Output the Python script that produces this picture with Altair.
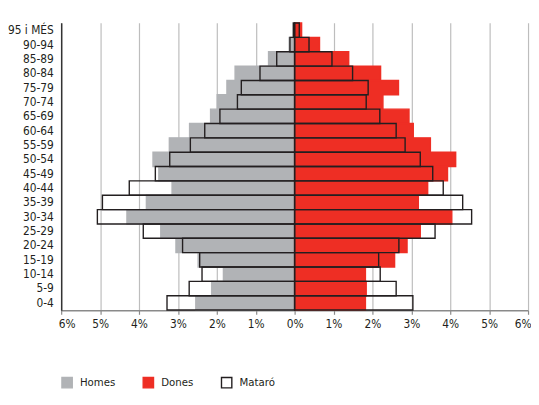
import altair as alt
import pandas as pd

ages = ["95 i MÉS", "90-94", "85-89", "80-84", "75-79", "70-74", "65-69", "60-64",
        "55-59", "50-54", "45-49", "40-44", "35-39", "30-34", "25-29", "20-24",
        "15-19", "10-14", "5-9", "0-4"]
homes = [0.04, 0.14, 0.67, 1.53, 1.74, 1.99, 2.16, 2.70, 3.22, 3.64, 3.49, 3.15,
         3.81, 4.31, 3.44, 3.05, 2.48, 1.83, 2.13, 2.54]
dones = [0.18, 0.64, 1.39, 2.21, 2.67, 2.27, 2.94, 3.05, 3.49, 4.14, 3.93, 3.42,
         3.18, 4.04, 3.23, 2.89, 2.57, 1.82, 1.84, 1.82]
mataro_homes = [0.03, 0.12, 0.46, 0.89, 1.37, 1.47, 1.92, 2.31, 2.68, 3.21, 3.58,
                4.25, 4.94, 5.07, 3.89, 2.88, 2.44, 2.38, 2.71, 3.28]
mataro_dones = [0.12, 0.37, 0.96, 1.49, 1.89, 1.84, 2.19, 2.61, 2.84, 3.23, 3.55,
                3.82, 4.32, 4.55, 3.61, 2.68, 2.16, 2.20, 2.61, 3.04]

series = ["Homes", "Dones", "Mataró"]
colors = ["#b1b3b6", "#ee2e24", "transparent"]
strokes = ["#b1b3b6", "#ee2e24", "#231f20"]

rows = []
for a, v in zip(ages, homes):
    rows.append({"age": a, "value": -v, "serie": "Homes"})
for a, v in zip(ages, dones):
    rows.append({"age": a, "value": v, "serie": "Dones"})
for a, v in zip(ages, mataro_homes):
    rows.append({"age": a, "value": -v, "serie": "Mataró"})
for a, v in zip(ages, mataro_dones):
    rows.append({"age": a, "value": v, "serie": "Mataró"})
df = pd.DataFrame(rows)

FONT = "Liberation Sans Narrow, DejaVu Sans Condensed, Liberation Sans, sans-serif"
TXT = "#231f20"

chart = alt.Chart(df).mark_bar(strokeWidth=1.4).encode(
    x=alt.X("value:Q", stack=None,
            scale=alt.Scale(domain=[-6, 6], nice=False, zero=False),
            axis=alt.Axis(values=list(range(-6, 7)), labelExpr="abs(datum.value) + '%'",
                          title=None, grid=True, gridColor="#bdbdbd", gridWidth=1.2,
                          domainColor="#8a8a8a", domainWidth=1.5, tickColor="#8a8a8a",
                          tickSize=4, tickWidth=1.2, labelFont=FONT, labelFontSize=12,
                          labelColor=TXT, labelPadding=4,
                          labelFlush=True, labelFlushOffset=3)),
    y=alt.Y("age:N", sort=ages,
            scale=alt.Scale(paddingInner=0, paddingOuter=0.02),
            axis=alt.Axis(title=None, ticks=False, domainColor="#333333", domainWidth=1.5,
                          labelFont=FONT, labelFontSize=12, labelColor=TXT,
                          labelPadding=8, grid=False)),
    fill=alt.Fill("serie:N", scale=alt.Scale(domain=series, range=colors),
                  legend=alt.Legend(title=None, orient="none", legendX=0, legendY=359,
                                    direction="horizontal", symbolType="square",
                                    symbolSize=110, symbolStrokeWidth=1.4,
                                    labelFont=FONT, labelFontSize=11.5, labelColor=TXT,
                                    labelOffset=7, columnPadding=24.5)),
    stroke=alt.Stroke("serie:N", scale=alt.Scale(domain=series, range=strokes)),
).properties(
    width=474, height=292,
    autosize=alt.AutoSizeParams(type="none"),
    padding={"left": 54, "top": 12, "right": 3, "bottom": 85},
).configure_view(stroke=None)

chart.save("out.html", embed_options={"renderer": "svg", "actions": False})
